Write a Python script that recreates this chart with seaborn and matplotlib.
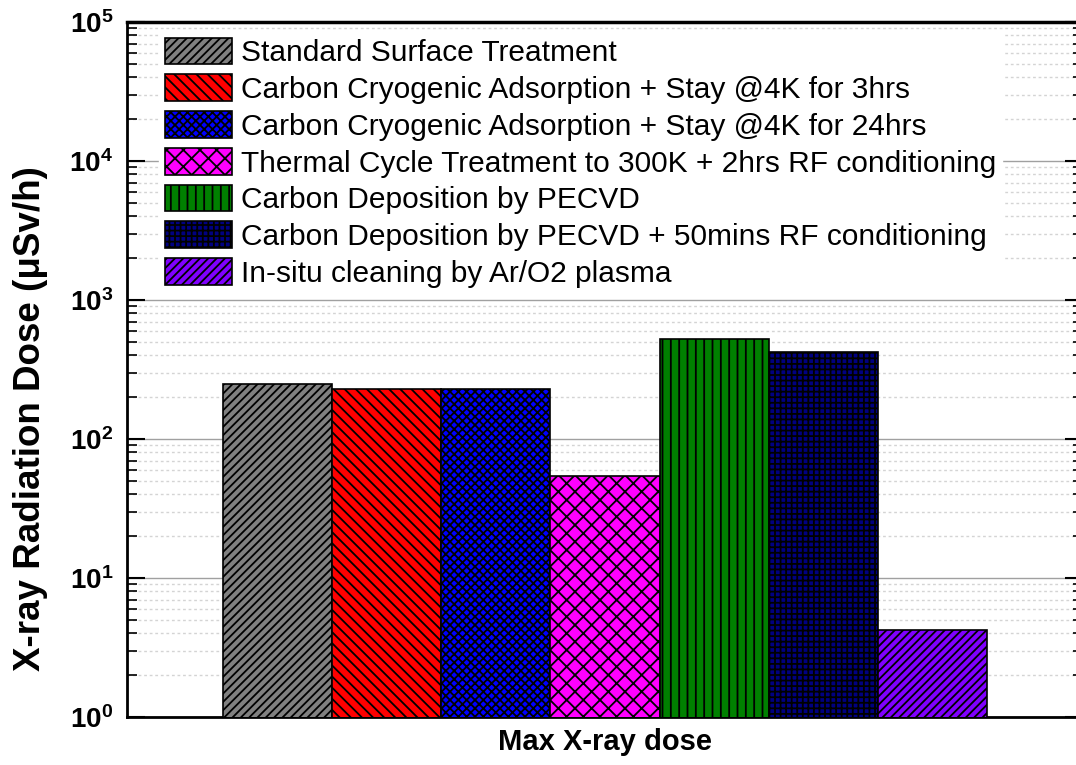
import math
import matplotlib
matplotlib.use("Agg")
import matplotlib.pyplot as plt
from matplotlib.ticker import LogLocator, FuncFormatter, NullFormatter
import seaborn as sns
import pandas as pd

# Data
group = "Max X-ray dose"
treatments = [
    "Standard Surface Treatment",
    "Carbon Cryogenic Adsorption + Stay @4K for 3hrs",
    "Carbon Cryogenic Adsorption + Stay @4K for 24hrs",
    "Thermal Cycle Treatment to 300K + 2hrs RF conditioning",
    "Carbon Deposition by PECVD",
    "Carbon Deposition by PECVD + 50mins RF conditioning",
    "In-situ cleaning by Ar/O2 plasma",
]
doses = [249, 229, 229, 54, 524, 423, 4.2]
colors = ["#808080", "#FF0000", "#0000FF", "#FF00FF", "#008000", "#000080", "#8000FF"]
hatches = ["////", "\\\\\\", "xxxx", "xx", "||", "+++", "////"]

df = pd.DataFrame({"group": [group] * len(treatments),
                   "treatment": treatments,
                   "dose": doses})

sns.set_theme(style="white")
plt.rcParams["font.family"] = ["Liberation Sans", "DejaVu Sans"]
plt.rcParams["text.color"] = "black"
plt.rcParams["axes.labelcolor"] = "black"
plt.rcParams["xtick.color"] = "black"
plt.rcParams["ytick.color"] = "black"
plt.rcParams["hatch.linewidth"] = 1.3
plt.rcParams["mathtext.fontset"] = "custom"
plt.rcParams["mathtext.bf"] = "Liberation Sans:bold"
plt.rcParams["mathtext.rm"] = "Liberation Sans:bold"

fig = plt.figure(figsize=(10.76, 7.65), dpi=100)
ax = fig.add_axes([127 / 1076, 48 / 765, 956 / 1076, 695 / 765])

sns.barplot(data=df, x="group", y="dose", hue="treatment",
            hue_order=treatments, palette=dict(zip(treatments, colors)),
            saturation=1, errorbar=None, edgecolor="black", linewidth=1.2,
            legend=False, ax=ax, zorder=3)

for cont, h in zip(ax.containers, hatches):
    for bar in cont:
        bar.set_hatch(h)

ax.set_yscale("log")
ax.set_ylim(1, 1e5)
ax.set_xlim(-0.5, 0.5)

ax.yaxis.set_major_locator(LogLocator(base=10, numticks=10))
ax.yaxis.set_minor_locator(LogLocator(base=10, subs=range(2, 10), numticks=100))
ax.yaxis.set_major_formatter(
    FuncFormatter(lambda v, p: r"$\mathbf{10^{%d}}$" % round(math.log10(v))))
ax.yaxis.set_minor_formatter(NullFormatter())

ax.grid(True, which="major", axis="y", color="#a0a0a0", linewidth=1.0, linestyle="-", zorder=0)
ax.grid(True, which="minor", axis="y", color="#d4d4d4", linewidth=1.0, linestyle=(0, (2, 2)), zorder=0)
ax.set_axisbelow(True)

ax.tick_params(axis="y", which="major", direction="in", length=13, width=1.5,
               left=True, right=True, labelsize=20, pad=10, colors="black")
ax.tick_params(axis="y", which="minor", direction="in", length=7, width=1.2,
               left=True, right=True)
ax.tick_params(axis="x", which="major", direction="in", length=7, width=1.2,
               bottom=True, labelbottom=False)

for s in ax.spines.values():
    s.set_color("black")
    s.set_linewidth(2)
ax.spines["top"].set_linewidth(2.5)

ax.set_xlabel("Max X-ray dose", fontsize=21, fontweight="bold", labelpad=8,
              color="black")
ax.set_ylabel("X-ray Radiation Dose (μSv/h)", fontsize=26.5, fontweight="bold",
              color="black")
ax.yaxis.set_label_coords(-0.083, 0.43)

handles = [c[0] for c in ax.containers]
leg = ax.legend(handles, treatments, loc="upper left",
                bbox_to_anchor=(0.0335, 0.986), fontsize=21.5,
                handlelength=2.24, handleheight=1.0, handletextpad=0.3,
                labelspacing=0.24, borderpad=0.2, borderaxespad=0,
                frameon=True, fancybox=False, framealpha=1,
                labelcolor="black")
leg.get_frame().set_edgecolor("white")
leg.get_frame().set_facecolor("white")
leg.set_zorder(5)

fig.savefig("out.png", dpi=100)
